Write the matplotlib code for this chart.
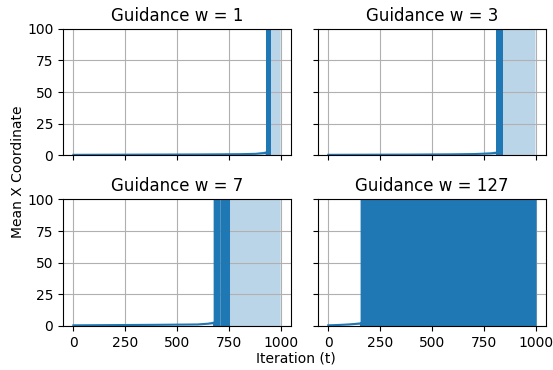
import numpy as np
import matplotlib
matplotlib.use("Agg")
import matplotlib.pyplot as plt

# guidance weights, one panel each
weights = [1, 3, 7, 127]

# stable phase: sampled iterations, mean x and std before things blow up
stable_t = {
    1: [0, 200, 400, 600, 800, 880, 920, 932],
    3: [0, 200, 400, 600, 700, 780, 814],
    7: [0, 200, 400, 600, 650, 680],
    127: [0, 50, 100, 150, 160],
}
stable_mean = {
    1: [0.4, 0.5, 0.6, 0.7, 0.9, 1.2, 1.8, 2.2],
    3: [0.4, 0.5, 0.6, 0.8, 1.0, 1.5, 2.0],
    7: [0.5, 0.7, 0.9, 1.2, 1.8, 2.5],
    127: [0.5, 0.8, 1.2, 1.8, 2.0],
}
stable_std = {
    1: [0.1, 0.1, 0.15, 0.2, 0.3, 0.6, 1.2, 1.8],
    3: [0.1, 0.1, 0.15, 0.2, 0.3, 0.8, 1.5],
    7: [0.1, 0.15, 0.2, 0.3, 0.6, 1.5],
    127: [0.1, 0.3, 0.6, 1.0, 1.5],
}
# iteration windows where the mean flips sign every step (off the scale)
osc_windows = {
    1: [(933, 947)],
    3: [(815, 838)],
    7: [(681, 703), (714, 750)],
    127: [(161, 1000)],
}
BIG = 1e4        # off-scale magnitude of the diverged mean
N_ITER = 1000


def build_series(w):
    t = list(stable_t[w])
    m = list(stable_mean[w])
    s = list(stable_std[w])
    prev_end = None
    for start, end in osc_windows[w]:
        if prev_end is not None:
            # stuck above the scale between two oscillating stretches
            for i in range(prev_end, start):
                t.append(i); m.append(BIG); s.append(3 * BIG)
        for i in range(start, end):
            t.append(i)
            m.append(BIG if i % 2 == 0 else -BIG)
            s.append(3 * BIG)
        prev_end = end
    for i in range(prev_end, N_ITER):
        t.append(i); m.append(BIG); s.append(3 * BIG)
    return np.array(t), np.array(m), np.array(s)


fig, axes = plt.subplots(2, 2, sharex=True, sharey=True, figsize=(5.53, 3.70), dpi=100)
fig.subplots_adjust(left=0.114, right=0.987, top=0.922, bottom=0.119,
                    wspace=0.118, hspace=0.349)

for ax, w in zip(axes.flat, weights):
    t, m, s = build_series(w)
    ax.plot(t, m, color='C0', lw=1.5)
    ax.fill_between(t, m - s, m + s, color='C0', alpha=0.3, lw=0)
    ax.set_title(f'Guidance w = {w}', fontsize=12)
    ax.grid(True)
    ax.set_ylim(0, 100)

axes[0, 0].set_xticks([0, 250, 500, 750, 1000])
axes[0, 0].set_yticks([0, 25, 50, 75, 100])

fig.text(296 / 553, 1 - 358 / 370, 'Iteration (t)', ha='center', va='center', fontsize=10)
fig.text(18 / 553, 1 - 172 / 370, 'Mean X Coordinate', ha='center', va='center',
         rotation=90, fontsize=10)

fig.savefig('out.png', dpi=100)
